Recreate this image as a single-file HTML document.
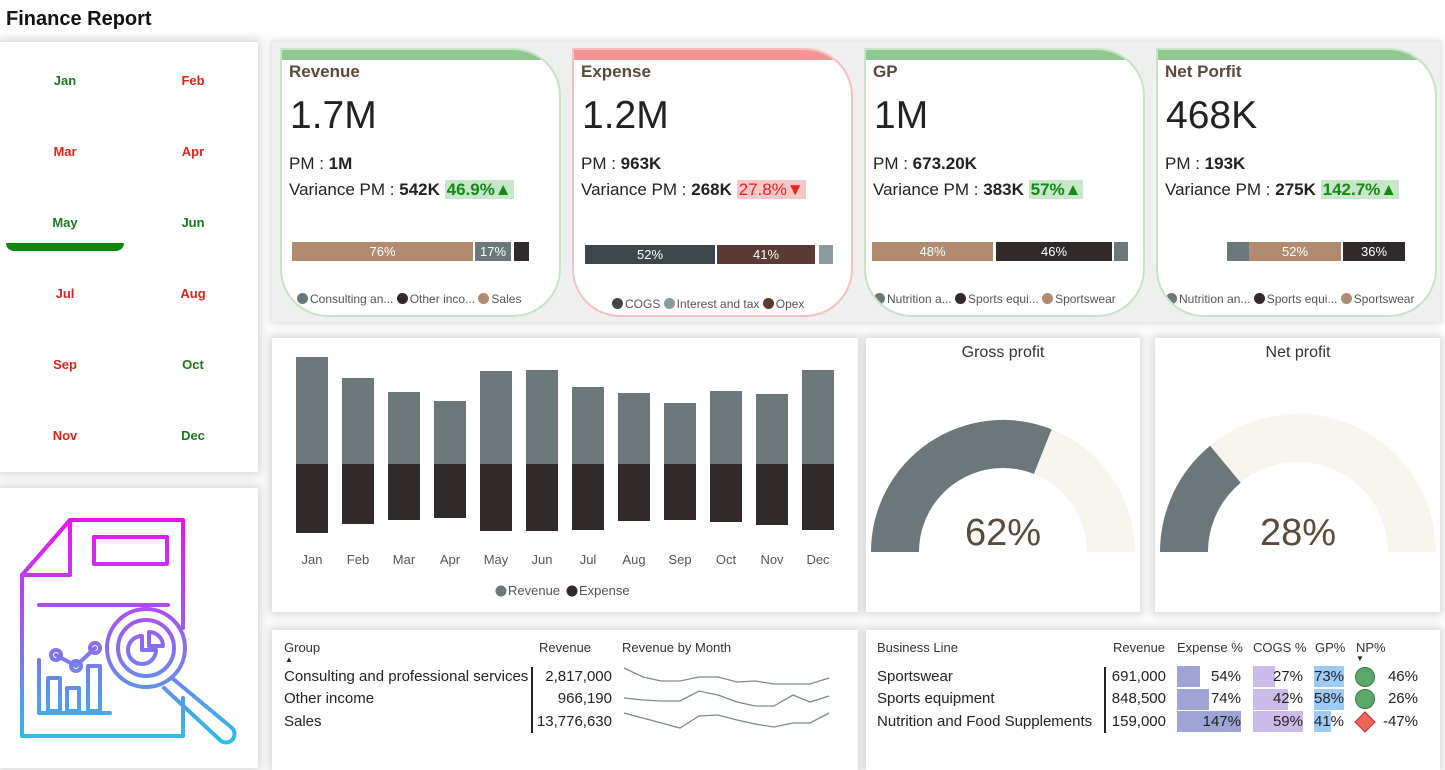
<!DOCTYPE html>
<html><head><meta charset="utf-8">
<style>
*{margin:0;padding:0;box-sizing:border-box}
body{width:1445px;height:759px;background:#fff;position:relative;overflow:hidden;font-family:"Liberation Sans",sans-serif;color:#222}
.a{position:absolute;white-space:nowrap}
.panel{position:absolute;background:#fff;box-shadow:0 0 9px 3px #d6d6d6}
.m{position:absolute;font-weight:bold;font-size:13px;width:60px;text-align:center}
.g{color:#1a7a1a}.r{color:#e8201a}
.card{position:absolute;top:48px;width:281px;height:269px;border:2px solid #c6e4c6;border-radius:0 48px 48px 48px;background:#fff;overflow:hidden}
.card .strip{position:absolute;left:0;top:0;right:0;height:10px;background:#90c990}
.card.red{border-color:#f6c0c0}.card.red .strip{background:#f49494}
.t{position:absolute;left:7px;top:12px;font-weight:bold;font-size:17px;color:#5a4a3a}
.big{position:absolute;left:8px;top:44px;font-size:39px;color:#222}
.pm{position:absolute;left:7px;top:104px;font-size:17px}
.var{position:absolute;left:7px;top:130px;font-size:17px}
.pg{background:#c8e6c9;color:#148a14;font-weight:bold;padding:0 2px}
.pr{background:#f8c8c8;color:#f02020;padding:0 2px}
.seg{position:absolute;height:19px;color:#fff;font-size:13px;text-align:center;line-height:19px}
.lg{position:absolute;font-size:12px;color:#555;white-space:nowrap}
.dot{display:inline-block;width:11px;height:11px;border-radius:50%;vertical-align:-1px;margin-right:2px}
.tb{position:absolute;font-size:15px;color:#222;white-space:nowrap}
.th{position:absolute;font-size:13px;color:#333;white-space:nowrap}
</style></head><body>
<div class="a" style="left:6px;top:8px;font-size:20px;font-weight:bold;color:#111">Finance Report</div>

<div class="panel" style="left:0;top:42px;width:258px;height:430px"></div>
<div class="m g" style="left:35px;top:73px">Jan</div><div class="m r" style="left:163px;top:73px">Feb</div>
<div class="m r" style="left:35px;top:144px">Mar</div><div class="m r" style="left:163px;top:144px">Apr</div>
<div class="m g" style="left:35px;top:215px">May</div><div class="m g" style="left:163px;top:215px">Jun</div>
<div class="a" style="left:6px;top:243px;width:118px;height:8px;background:#0d8a0d;border-radius:0 0 14px 14px"></div>
<div class="m r" style="left:35px;top:286px">Jul</div><div class="m r" style="left:163px;top:286px">Aug</div>
<div class="m r" style="left:35px;top:357px">Sep</div><div class="m g" style="left:163px;top:357px">Oct</div>
<div class="m r" style="left:35px;top:428px">Nov</div><div class="m g" style="left:163px;top:428px">Dec</div>

<div class="panel" style="left:0;top:488px;width:258px;height:280px"></div>
<svg class="a" style="left:0;top:488px" width="258" height="271">
<defs><linearGradient id="ig" gradientUnits="userSpaceOnUse" x1="0" y1="30" x2="0" y2="255"><stop offset="0" stop-color="#f010f0"/><stop offset="0.5" stop-color="#9a5ef0"/><stop offset="1" stop-color="#28c0ea"/></linearGradient></defs>
<g fill="none" stroke="url(#ig)" stroke-width="4" stroke-linejoin="round" stroke-linecap="round">
<path d="M183 140 L183 32 L70 32 L22 87 L22 248 L183 248 L183 210"/>
<path d="M22 87 L70 87 L70 32"/>
<rect x="94" y="49" width="73" height="27"/>
<line x1="39" y1="117" x2="168" y2="117"/>
<circle cx="146" cy="160" r="39"/><circle cx="146" cy="160" r="28"/>
<path d="M142 148 a14 14 0 1 0 14 14 l-14 0 z"/><path d="M149 144 a14 14 0 0 1 14 14 l-14 0 z"/>
<path d="M172 190 L232 240 a8 8 0 0 1 -12 12 L164 200"/>
<path d="M39 172 L39 225 L110 225"/>
<rect x="48" y="190" width="12" height="33"/><rect x="67" y="200" width="12" height="23"/><rect x="88" y="178" width="12" height="45"/>
<polyline points="56,167 76,178 95,160"/><circle cx="56" cy="167" r="5"/><circle cx="76" cy="178" r="5"/><circle cx="95" cy="160" r="5"/>
</g></svg>

<div class="a" style="left:272px;top:42px;width:1168px;height:280px;background:#efefef;box-shadow:0 0 6px 2px #dcdcdc"></div>

<div class="card" style="left:280px">
<div class="strip"></div><div class="t">Revenue</div><div class="big">1.7M</div>
<div class="pm">PM : <b>1M</b></div>
<div class="var">Variance PM : <b>542K</b> <span class="pg">46.9%▲</span></div>
<div class="seg" style="left:10px;top:192px;width:181px;background:#b08b70">76%</div>
<div class="seg" style="left:193px;top:192px;width:36px;background:#6b7779">17%</div>
<div class="seg" style="left:232px;top:192px;width:15px;background:#312a2a"></div>
<div class="lg" style="left:15px;top:242px"><span class="dot" style="background:#6b7779"></span>Consulting an... <span class="dot" style="background:#312a2a"></span>Other inco... <span class="dot" style="background:#b08b70"></span>Sales</div>
</div>

<div class="card red" style="left:572px">
<div class="strip"></div><div class="t">Expense</div><div class="big">1.2M</div>
<div class="pm">PM : <b>963K</b></div>
<div class="var">Variance PM : <b>268K</b> <span class="pr">27.8%▼</span></div>
<div class="seg" style="left:11px;top:195px;width:130px;background:#3d4648">52%</div>
<div class="seg" style="left:143px;top:195px;width:98px;background:#5a3a32">41%</div>
<div class="seg" style="left:245px;top:195px;width:14px;background:#8a9a9e"></div>
<div class="lg" style="left:38px;top:247px"><span class="dot" style="background:#3d4648"></span>COGS <span class="dot" style="background:#8a9a9e"></span>Interest and tax <span class="dot" style="background:#5a3a32"></span>Opex</div>
</div>

<div class="card" style="left:864px">
<div class="strip"></div><div class="t">GP</div><div class="big">1M</div>
<div class="pm">PM : <b>673.20K</b></div>
<div class="var">Variance PM : <b>383K</b> <span class="pg">57%▲</span></div>
<div class="seg" style="left:6px;top:192px;width:121px;background:#b08b70">48%</div>
<div class="seg" style="left:130px;top:192px;width:116px;background:#312a2a">46%</div>
<div class="seg" style="left:248px;top:192px;width:14px;background:#6b7779"></div>
<div class="lg" style="left:8px;top:242px"><span class="dot" style="background:#6b7779"></span>Nutrition a... <span class="dot" style="background:#312a2a"></span>Sports equi... <span class="dot" style="background:#b08b70"></span>Sportswear</div>
</div>

<div class="card" style="left:1156px">
<div class="strip"></div><div class="t">Net Porfit</div><div class="big">468K</div>
<div class="pm">PM : <b>193K</b></div>
<div class="var">Variance PM : <b>275K</b> <span class="pg">142.7%▲</span></div>
<div class="seg" style="left:69px;top:192px;width:22px;background:#6b7779"></div>
<div class="seg" style="left:91px;top:192px;width:92px;background:#b08b70">52%</div>
<div class="seg" style="left:185px;top:192px;width:62px;background:#312a2a">36%</div>
<div class="lg" style="left:8px;top:242px"><span class="dot" style="background:#6b7779"></span>Nutrition an... <span class="dot" style="background:#312a2a"></span>Sports equi... <span class="dot" style="background:#b08b70"></span>Sportswear</div>
</div>

<div class="panel" style="left:272px;top:338px;width:586px;height:274px"></div>
<svg class="a" style="left:0;top:0" width="1445" height="759">
<g fill="#6b7779">
<rect x="296" y="357" width="32" height="107"/><rect x="342" y="378" width="32" height="86"/><rect x="388" y="392" width="32" height="72"/><rect x="434" y="401" width="32" height="63"/><rect x="480" y="371" width="32" height="93"/><rect x="526" y="370" width="32" height="94"/><rect x="572" y="387" width="32" height="77"/><rect x="618" y="393" width="32" height="71"/><rect x="664" y="403" width="32" height="61"/><rect x="710" y="391" width="32" height="73"/><rect x="756" y="394" width="32" height="70"/><rect x="802" y="370" width="32" height="94"/>
</g>
<g fill="#312a2a">
<rect x="296" y="464" width="32" height="69"/><rect x="342" y="464" width="32" height="60"/><rect x="388" y="464" width="32" height="56"/><rect x="434" y="464" width="32" height="54"/><rect x="480" y="464" width="32" height="67"/><rect x="526" y="464" width="32" height="67"/><rect x="572" y="464" width="32" height="66"/><rect x="618" y="464" width="32" height="57"/><rect x="664" y="464" width="32" height="56"/><rect x="710" y="464" width="32" height="58"/><rect x="756" y="464" width="32" height="61"/><rect x="802" y="464" width="32" height="66"/>
</g>
<g font-family="Liberation Sans" font-size="13" fill="#555" text-anchor="middle">
<text x="312" y="564">Jan</text><text x="358" y="564">Feb</text><text x="404" y="564">Mar</text><text x="450" y="564">Apr</text><text x="496" y="564">May</text><text x="542" y="564">Jun</text><text x="588" y="564">Jul</text><text x="634" y="564">Aug</text><text x="680" y="564">Sep</text><text x="726" y="564">Oct</text><text x="772" y="564">Nov</text><text x="818" y="564">Dec</text>
</g>
<circle cx="501" cy="591" r="5.5" fill="#6b7779"/><text x="508" y="595" font-family="Liberation Sans" font-size="13" fill="#555">Revenue</text>
<circle cx="572" cy="591" r="5.5" fill="#312a2a"/><text x="579" y="595" font-family="Liberation Sans" font-size="13" fill="#555">Expense</text>
</svg>

<div class="panel" style="left:866px;top:338px;width:274px;height:274px"></div>
<div class="panel" style="left:1155px;top:338px;width:285px;height:274px"></div>
<svg class="a" style="left:0;top:0" width="1445" height="759">
<path d="M871 552 A132 132 0 0 1 1135 552 L1087 552 A84 84 0 0 0 919 552 Z" fill="#f8f4ee"/>
<path d="M871 552 A132 132 0 0 1 1051.6 429.2 L1033.9 473.9 A84 84 0 0 0 919 552 Z" fill="#6b7779"/>
<path d="M1160 552 A138 138 0 0 1 1436 552 L1388 552 A90 90 0 0 0 1208 552 Z" fill="#f8f4ee"/>
<path d="M1160 552 A138 138 0 0 1 1210.1 445.7 L1240.7 482.7 A90 90 0 0 0 1208 552 Z" fill="#6b7779"/>
<g font-family="Liberation Sans" text-anchor="middle">
<text x="1003" y="357" font-size="16" fill="#333">Gross profit</text>
<text x="1298" y="357" font-size="16" fill="#333">Net profit</text>
<text x="1003" y="545" font-size="38" fill="#5a4a3a">62%</text>
<text x="1298" y="545" font-size="38" fill="#5a4a3a">28%</text>
</g>
</svg>

<div class="panel" style="left:272px;top:630px;width:586px;height:140px"></div>
<div class="th" style="left:284px;top:640px">Group</div>
<div class="a" style="left:285px;top:655px;font-size:8px">▲</div>
<div class="th" style="left:539px;top:640px">Revenue</div>
<div class="th" style="left:622px;top:640px">Revenue by Month</div>
<div class="tb" style="left:284px;top:668px">Consulting and professional services</div>
<div class="tb" style="left:284px;top:690px">Other income</div>
<div class="tb" style="left:284px;top:713px">Sales</div>
<div class="tb" style="left:536px;top:668px;width:76px;text-align:right">2,817,000</div>
<div class="tb" style="left:536px;top:690px;width:76px;text-align:right">966,190</div>
<div class="tb" style="left:536px;top:713px;width:76px;text-align:right">13,776,630</div>
<div class="a" style="left:531px;top:667px;width:2px;height:66px;background:#222"></div>
<svg class="a" style="left:0;top:0" width="1445" height="759">
<g fill="none" stroke="#7d8a8c" stroke-width="1.3">
<polyline points="624,668 643,677 661,681 680,681 699,677 718,677 737,682 755,681 774,684 793,684 810,684 829,678"/>
<polyline points="624,698 643,700 661,701 680,701 699,691 718,695 737,702 755,706 774,706 793,695 810,702 829,696"/>
<polyline points="624,713 680,728 699,716 718,715 737,720 755,724 774,727 793,723 810,723 829,713"/>
</g>
</svg>

<div class="panel" style="left:866px;top:630px;width:574px;height:140px"></div>
<div class="th" style="left:877px;top:640px">Business Line</div>
<div class="th" style="left:1113px;top:640px">Revenue</div>
<div class="th" style="left:1177px;top:640px">Expense %</div>
<div class="th" style="left:1253px;top:640px">COGS %</div>
<div class="th" style="left:1315px;top:640px">GP%</div>
<div class="th" style="left:1356px;top:640px">NP%</div>
<div class="a" style="left:1356px;top:654px;font-size:8px">▼</div>
<div class="tb" style="left:877px;top:668px">Sportswear</div>
<div class="tb" style="left:877px;top:690px">Sports equipment</div>
<div class="tb" style="left:877px;top:713px">Nutrition and Food Supplements</div>
<div class="a" style="left:1104px;top:667px;width:2px;height:66px;background:#222"></div>
<div class="tb" style="left:1100px;top:668px;width:66px;text-align:right">691,000</div>
<div class="tb" style="left:1100px;top:690px;width:66px;text-align:right">848,500</div>
<div class="tb" style="left:1100px;top:713px;width:66px;text-align:right">159,000</div>
<div class="a" style="left:1177px;top:666px;width:23px;height:21px;background:#a0a3d6"></div>
<div class="a" style="left:1177px;top:689px;width:32px;height:21px;background:#a0a3d6"></div>
<div class="a" style="left:1177px;top:711px;width:64px;height:21px;background:#a0a3d6"></div>
<div class="tb" style="left:1177px;top:668px;width:64px;text-align:right">54%</div>
<div class="tb" style="left:1177px;top:690px;width:64px;text-align:right">74%</div>
<div class="tb" style="left:1177px;top:713px;width:64px;text-align:right">147%</div>
<div class="a" style="left:1253px;top:666px;width:22px;height:21px;background:#cbbbe8"></div>
<div class="a" style="left:1253px;top:689px;width:35px;height:21px;background:#cbbbe8"></div>
<div class="a" style="left:1253px;top:711px;width:50px;height:21px;background:#cbbbe8"></div>
<div class="tb" style="left:1253px;top:668px;width:50px;text-align:right">27%</div>
<div class="tb" style="left:1253px;top:690px;width:50px;text-align:right">42%</div>
<div class="tb" style="left:1253px;top:713px;width:50px;text-align:right">59%</div>
<div class="a" style="left:1314px;top:666px;width:30px;height:21px;background:#9dcbf5"></div>
<div class="a" style="left:1314px;top:689px;width:30px;height:21px;background:#9dcbf5"></div>
<div class="a" style="left:1314px;top:711px;width:17px;height:21px;background:#9dcbf5"></div>
<div class="tb" style="left:1314px;top:668px">73%</div>
<div class="tb" style="left:1314px;top:690px">58%</div>
<div class="tb" style="left:1314px;top:713px">41%</div>
<svg class="a" style="left:0;top:0" width="1445" height="759">
<circle cx="1365" cy="677" r="9.5" fill="#5aa86a" stroke="#3a7a4a"/>
<circle cx="1365" cy="699" r="9.5" fill="#5aa86a" stroke="#3a7a4a"/>
<path d="M1365 712 L1375 722 L1365 732 L1355 722 Z" fill="#f0665a" stroke="#c03030"/>
</svg>
<div class="tb" style="left:1380px;top:668px;width:38px;text-align:right">46%</div>
<div class="tb" style="left:1380px;top:690px;width:38px;text-align:right">26%</div>
<div class="tb" style="left:1380px;top:713px;width:38px;text-align:right">-47%</div>
</body></html>
